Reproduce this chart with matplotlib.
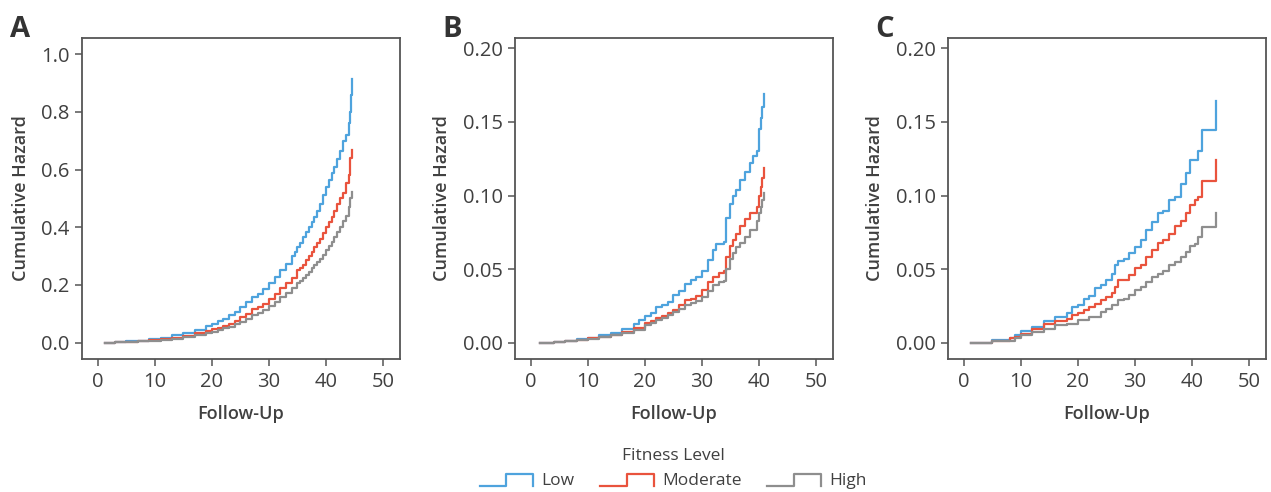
import matplotlib
matplotlib.use("Agg")
import matplotlib.pyplot as plt
from matplotlib.lines import Line2D
from matplotlib.legend_handler import HandlerBase

plt.rcParams['font.family'] = ['Open Sans', 'DejaVu Sans']

# ---- data (follow-up time, cumulative hazard) ----
levels = ["Low", "Moderate", "High"]
colors = ["#4ea3dd", "#e9533d", "#8e8e8e"]

a_low_t = [1.2, 3, 5, 7, 9, 11, 13, 15, 17, 19, 20, 21, 22, 23, 24, 25, 26, 27, 28, 29, 30, 31, 32, 33,
           34, 34.5, 35, 35.5, 36, 36.5, 37, 37.5, 38, 38.5, 39, 39.5, 40, 40.5, 41, 41.5, 42, 42.5, 43, 43.5, 44,
           44.2, 44.4, 44.6]
a_low_v = [0, .002, .004, .007, .011, .017, .025, .034, .045, .057, .066, .074, .083, .094, .107, .122, .14, .158,
           .17, .185, .205, .228, .25, .273, .30, .315, .33, .345, .365, .383, .40, .418, .435, .457, .48, .51,
           .54, .565, .588, .61, .635, .665, .70, .72, .76, .80, .86, .915]
a_mod_t = [1.2, 3, 5, 7, 9, 11, 13, 15, 17, 19, 20, 21, 22, 23, 24, 25, 26, 27, 28, 29, 30, 31, 32, 33, 34, 35,
           35.5, 36, 36.5, 37, 37.5, 38, 38.5, 39, 39.5, 40, 40.5, 41, 41.5, 42, 42.5, 43, 43.6, 44, 44.2, 44.6]
a_mod_v = [0, .0015, .003, .005, .008, .012, .017, .024, .032, .04, .046, .052, .058, .066, .076, .088, .10, .116,
           .124, .135, .152, .17, .188, .205, .225, .25, .26, .27, .285, .30, .315, .33, .345, .36, .38, .40, .418,
           .435, .457, .48, .50, .52, .555, .58, .64, .667]
a_high_t = [1.2, 3, 5, 7, 9, 11, 13, 15, 17, 19, 20, 21, 22, 23, 24, 25, 26, 27, 28, 29, 30, 31, 32, 33, 34, 35,
            35.5, 36, 36.5, 37, 37.5, 38, 38.5, 39, 39.5, 40, 40.5, 41, 41.5, 42, 42.5, 43, 43.5, 44, 44.3, 44.6]
a_high_v = [0, .0012, .0025, .004, .007, .010, .014, .02, .027, .034, .038, .043, .049, .055, .063, .072, .083,
            .094, .103, .113, .126, .141, .157, .172, .19, .205, .215, .225, .235, .246, .257, .268, .279, .29,
            .305, .32, .335, .35, .367, .385, .402, .42, .44, .47, .50, .523]

b_low_t = [1.6, 4, 6, 8, 10, 12, 14, 16, 18, 19, 20, 21, 22, 23, 24, 25, 26, 27, 28, 29, 30, 31, 32, 32.5, 33.8,
           34.3, 35, 35.5, 36, 36.7, 37.5, 38.5, 39, 39.6, 40, 40.3, 40.6, 40.9]
b_low_v = [0, .0008, .0015, .0025, .0035, .005, .007, .0095, .013, .0155, .018, .02, .024, .0255, .028, .0325,
           .035, .040, .0425, .045, .049, .056, .063, .067, .0686, .085, .094, .10, .104, .1105, .116, .122, .127,
           .13, .145, .153, .16, .169]
b_mod_t = [1.6, 4, 6, 8, 10, 12, 14, 16, 18, 20, 21, 22, 23, 24, 25, 26, 27, 28, 29, 30, 31, 32, 33, 33.8, 34.3,
           35, 35.5, 36, 36.7, 37.5, 38.5, 39.6, 40, 40.3, 40.6, 40.9]
b_mod_v = [0, .0006, .0012, .002, .003, .004, .0055, .0075, .01, .0135, .015, .017, .018, .02, .0225, .0255, .029,
           .030, .032, .036, .041, .045, .0475, .049, .058, .066, .07, .074, .079, .084, .088, .0924, .10, .106,
           .112, .119]
b_high_t = [1.6, 4, 6, 8, 10, 12, 14, 16, 18, 20, 21, 22, 23, 24, 25, 26, 27, 28, 29, 30, 31, 32, 33, 33.8, 34.3,
            35, 35.5, 36, 36.7, 37.5, 38.5, 39.6, 40, 40.3, 40.6, 40.9]
b_high_v = [0, .0005, .001, .0018, .0027, .0037, .005, .0068, .009, .0118, .0135, .0154, .017, .0188, .021, .023,
            .026, .027, .0285, .031, .035, .039, .041, .042, .05, .057, .061, .065, .0675, .072, .0766, .083, .088,
            .0924, .097, .1015]

c_low_t = [1.3, 5, 8, 9, 10, 12, 14, 16, 18, 19, 20, 21, 22, 23, 24, 25, 26, 26.5, 27, 28, 29, 30, 31, 32, 33, 34,
           35, 36, 37, 38, 39, 39.6, 41.1, 41.7, 44.2]
c_low_v = [0, .0018, .0034, .005, .008, .011, .015, .0177, .020, .0245, .026, .030, .032, .037, .039, .0426, .047,
           .053, .0557, .0566, .0607, .065, .070, .0766, .082, .088, .0895, .097, .099, .108, .115, .124, .13,
           .1445, .164]
c_mod_t = [1.3, 5, 8, 9, 10, 12, 14, 16, 18, 19, 20, 21, 22, 23, 24, 25, 26, 26.5, 27, 28, 29, 30, 31, 32, 33, 34,
           35, 36, 37, 38, 39, 39.6, 40.5, 41.1, 41.7, 44.2]
c_mod_v = [0, .0015, .003, .004, .0063, .0097, .0127, .015, .0165, .019, .020, .022, .0245, .0267, .029, .031,
           .0335, .038, .0426, .0426, .046, .0505, .053, .0584, .063, .0675, .070, .074, .079, .083, .088, .0936,
           .097, .0992, .110, .124]
c_high_t = [1.3, 5, 9, 10, 12, 14, 16, 18, 20, 22, 24, 25, 26, 27, 28, 29, 30, 31, 32, 33, 34, 35, 36, 37, 38, 39,
            39.6, 40.5, 41.1, 41.7, 44.2]
c_high_v = [0, .0012, .003, .005, .0075, .0097, .012, .013, .0154, .0177, .021, .0227, .0256, .029, .030, .0324,
            .0358, .038, .0415, .0448, .047, .049, .0528, .055, .0584, .0618, .066, .067, .072, .0788, .088]

x_ticks = [0, 10, 20, 30, 40, 50]
a_yticks = [0.0, 0.2, 0.4, 0.6, 0.8, 1.0]
bc_yticks = [0.00, 0.05, 0.10, 0.15, 0.20]

txt = "#404040"
edge = "#555555"


class StepHandler(HandlerBase):
    # little step shaped legend key
    def create_artists(self, legend, orig_handle, xdescent, ydescent, width, height, fontsize, trans):
        x0, y0 = -xdescent, -ydescent - 1
        xs = [x0, x0 + 0.5 * width, x0 + 0.5 * width, x0 + width, x0 + width]
        ys = [y0, y0, y0 + height, y0 + height, y0]
        ln = Line2D(xs, ys, color=orig_handle.get_color(), lw=orig_handle.get_linewidth(), transform=trans)
        return [ln]


fig = plt.figure(figsize=(12.71, 4.92), dpi=100)
panels = [
    ("A", 0.0645, [(a_low_t, a_low_v), (a_mod_t, a_mod_v), (a_high_t, a_high_v)], (-0.057, 1.056), a_yticks, "{:.1f}"),
    ("B", 0.4052, [(b_low_t, b_low_v), (b_mod_t, b_mod_v), (b_high_t, b_high_v)], (-0.011, 0.207), bc_yticks, "{:.2f}"),
    ("C", 0.7459, [(c_low_t, c_low_v), (c_mod_t, c_mod_v), (c_high_t, c_high_v)], (-0.011, 0.207), bc_yticks, "{:.2f}"),
]

handles = []
for letter, left, series, ylim, yticks, fmt in panels:
    ax = fig.add_axes([left, 0.2703, 0.2502, 0.6524])
    handles = []
    for (t, v), c in zip(series, colors):
        h, = ax.plot(t, v, drawstyle="steps-post", color=c, lw=1.6)
        handles.append(h)
    ax.set_xlim(-2.8, 53)
    ax.set_ylim(*ylim)
    ax.set_xticks(x_ticks)
    ax.set_yticks(yticks)
    ax.set_yticklabels([fmt.format(y) for y in yticks])
    ax.tick_params(direction="out", length=5, width=1.1, color=edge, labelsize=14.5, labelcolor=txt, pad=4)
    for s in ax.spines.values():
        s.set_color(edge)
        s.set_linewidth(1.3)
    ax.set_xlabel("Follow-Up", fontsize=13, fontweight="semibold", color=txt, labelpad=10)
    ax.set_ylabel("Cumulative Hazard", fontsize=13, fontweight="semibold", color=txt, labelpad=8)
    fig.text(left - 0.057, 0.925, letter, fontsize=21, fontweight="bold", color="#333333")

leg = fig.legend(handles, levels, loc="lower center", bbox_to_anchor=(0.5295, -0.025), ncol=3,
                 title="Fitness Level", frameon=False, fontsize=12.5, title_fontsize=12.5,
                 handlelength=3.1, handletextpad=0.45, columnspacing=1.5,
                 handler_map={Line2D: StepHandler()})
for t in leg.get_texts():
    t.set_color(txt)
leg.get_title().set_color(txt)

fig.savefig("out.png", dpi=100)
